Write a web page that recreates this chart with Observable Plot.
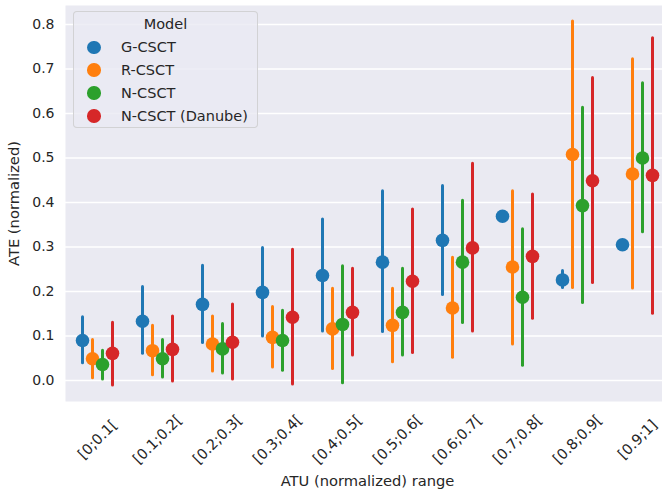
<!DOCTYPE html>
<html>
<head>
<meta charset="utf-8">
<script src="https://cdn.jsdelivr.net/npm/d3@7"></script>
<script src="https://cdn.jsdelivr.net/npm/@observablehq/plot@0.6"></script>
<style>
  html, body { margin: 0; padding: 0; background: #ffffff; }
  #wrap { position: relative; width: 662px; height: 493px; overflow: hidden; font-family: "DejaVu Sans", sans-serif; }
  #wrap svg { max-width: none !important; display: block; }
  #legend { position: absolute; left: 73px; top: 11px; width: 185px; height: 117px; box-sizing: border-box;
    border: 1px solid rgba(204,204,204,0.8); border-radius: 4px; background: rgba(234,234,242,0.8);
    padding-top: 0px; color: #262626; font-size: 14.5px; }
  #legend .title { text-align: center; line-height: 24px; height: 24px; }
  #legend .row { display: flex; align-items: center; height: 22.8px; }
  #legend .sw { width: 13.5px; height: 13.5px; border-radius: 50%; margin-left: 13px; margin-right: 20.5px; flex: none; }
</style>
</head>
<body>
<div id="wrap"></div>
<script>
const categories = ["[0;0.1[", "[0.1;0.2[", "[0.2;0.3[", "[0.3;0.4[", "[0.4;0.5[", "[0.5;0.6[", "[0.6;0.7[", "[0.7;0.8[", "[0.8;0.9[", "[0.9;1]"];
const models = ["G-CSCT", "R-CSCT", "N-CSCT", "N-CSCT (Danube)"];
const colors = ["#1f77b4", "#ff7f0e", "#2ca02c", "#d62728"];

const gMean = [0.090, 0.133, 0.171, 0.198, 0.236, 0.266, 0.315, 0.369, 0.226, 0.305];
const gLo   = [0.039, 0.060, 0.084, 0.099, 0.110, 0.109, 0.192, null, 0.208, null];
const gHi   = [0.142, 0.210, 0.258, 0.298, 0.362, 0.425, 0.437, null, 0.246, null];

const rMean = [0.049, 0.067, 0.082, 0.097, 0.116, 0.124, 0.163, 0.255, 0.508, 0.464];
const rLo   = [0.005, 0.012, 0.020, 0.029, 0.026, 0.041, 0.051, 0.081, 0.208, 0.207];
const rHi   = [0.091, 0.123, 0.144, 0.165, 0.206, 0.206, 0.276, 0.425, 0.807, 0.722];

const nMean = [0.036, 0.049, 0.071, 0.090, 0.126, 0.153, 0.266, 0.187, 0.393, 0.500];
const nLo   = [0.002, 0.007, 0.016, 0.022, -0.006, 0.056, 0.129, 0.033, 0.174, 0.333];
const nHi   = [0.067, 0.091, 0.127, 0.157, 0.257, 0.251, 0.404, 0.340, 0.613, 0.668];

const dMean = [0.061, 0.070, 0.086, 0.142, 0.153, 0.223, 0.298, 0.279, 0.449, 0.461];
const dLo   = [-0.011, -0.002, 0.002, -0.009, 0.056, 0.062, 0.110, 0.139, 0.219, 0.150];
const dHi   = [0.130, 0.144, 0.171, 0.294, 0.251, 0.384, 0.487, 0.418, 0.680, 0.769];

const yTicks = [0, 0.1, 0.2, 0.3, 0.4, 0.5, 0.6, 0.7, 0.8];

const series = [[gMean, gLo, gHi], [rMean, rLo, rHi], [nMean, nLo, nHi], [dMean, dLo, dHi]];
const tables = series.map(([m, lo, hi]) => categories.map((c, i) => ({cat: c, mean: m[i], lo: lo[i], hi: hi[i]})));

const dodge = [-15, -5, 5, 15];
const seriesMarks = tables.flatMap((t, k) => [
  Plot.ruleX(t.filter(d => d.lo != null && d.hi != null), {x: "cat", y1: "lo", y2: "hi", stroke: colors[k], strokeWidth: 3, strokeLinecap: "round", dx: dodge[k]}),
  Plot.dot(t, {x: "cat", y: "mean", r: 6.8, fill: colors[k], stroke: "none", dx: dodge[k]})
]);

const chart = Plot.plot({
  width: 669,
  height: 493,
  marginLeft: 65,
  marginRight: 0,
  marginTop: 5,
  marginBottom: 92,
  style: {fontFamily: "DejaVu Sans, sans-serif", fontSize: "14px", color: "#262626", background: "transparent"},
  x: {type: "band", domain: categories, padding: 0, axis: null},
  y: {domain: [-0.0472, 0.8427], axis: null},
  marks: [
    Plot.frame({fill: "#eaeaf2", stroke: "none"}),
    Plot.gridY(yTicks, {stroke: "#ffffff", strokeOpacity: 1, strokeWidth: 1.4}),
    Plot.axisY(yTicks, {tickSize: 0, tickPadding: 11, tickFormat: d3.format(".1f"), fontSize: 14, label: null, fill: "#262626"}),
    Plot.text(categories, {x: d => d, frameAnchor: "bottom", dy: 38, rotate: -45, textAnchor: "middle", lineAnchor: "middle", fontSize: 14.5, fill: "#262626"}),
    Plot.text(["ATU (normalized) range"], {frameAnchor: "bottom", dy: 80, textAnchor: "middle", lineAnchor: "middle", fontSize: 14.7, fill: "#262626"}),
    Plot.text(["ATE (normalized)"], {frameAnchor: "left", dx: -51, rotate: -90, textAnchor: "middle", lineAnchor: "middle", fontSize: 14.7, fill: "#262626"}),
    ...seriesMarks
  ]
});

const wrap = document.getElementById("wrap");
wrap.appendChild(chart);

const legend = document.createElement("div");
legend.id = "legend";
const title = document.createElement("div");
title.className = "title";
title.textContent = "Model";
legend.appendChild(title);
models.forEach((m, i) => {
  const row = document.createElement("div");
  row.className = "row";
  const sw = document.createElement("span");
  sw.className = "sw";
  sw.style.background = colors[i];
  const label = document.createElement("span");
  label.textContent = m;
  row.appendChild(sw);
  row.appendChild(label);
  legend.appendChild(row);
});
wrap.appendChild(legend);
</script>
</body>
</html>
